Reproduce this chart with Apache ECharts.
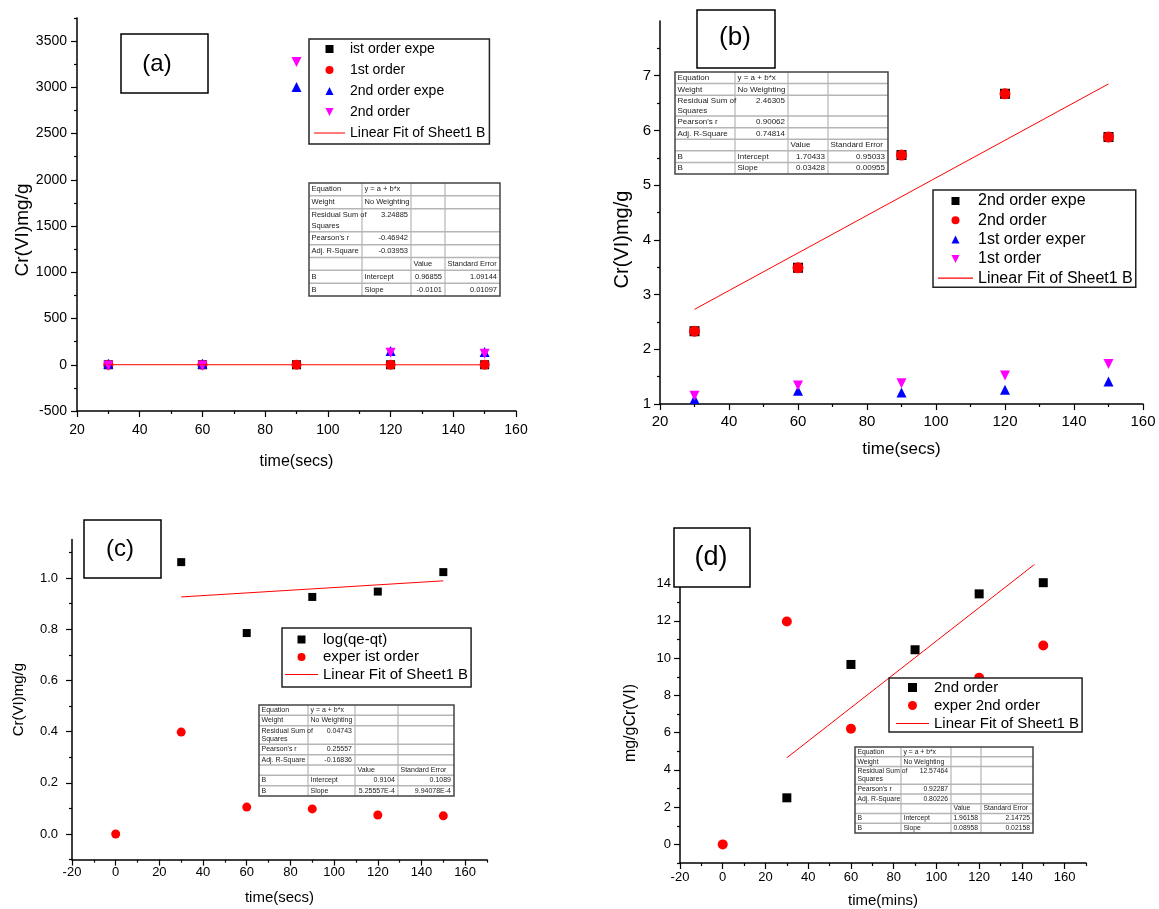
<!DOCTYPE html>
<html><head><meta charset="utf-8">
<script src="https://cdn.jsdelivr.net/npm/echarts@6.0.0/dist/echarts.min.js"></script>
<style>html,body{margin:0;padding:0;background:#fff}#c{width:1159px;height:909px}</style>
</head><body><div id="c"></div>
<script>
const FONT = '"Liberation Sans", Arial, Helvetica, sans-serif';

// ---------- DATA ----------
// Panel (a)
const aX = [30, 60, 90, 120, 150];
const aFirstExp = [0, 0, 0, 0, 0];
const aFirst = [0, 0, 0, 0, 0];
const aSecondExp = [10, 10, 3005, 150, 138];
const aSecond = [-12, -12, 3275, 130, 120];
const aFit = [[30, 0.67], [150, -0.55]];
const aXTicks = [20, 40, 60, 80, 100, 120, 140, 160];
const aXMinor = [30, 50, 70, 90, 110, 130, 150];
const aYTicks = [-500, 0, 500, 1000, 1500, 2000, 2500, 3000, 3500];
const aYMinor = [-250, 250, 750, 1250, 1750, 2250, 2750, 3250, 3750];
const aNames = ['ist order expe', '1st order', '2nd order expe', '2nd order', 'Linear Fit of Sheet1 B'];
const aTable = [
  ['Equation', 'y = a + b*x', '', ''],
  ['Weight', 'No Weighting', '', ''],
  ['Residual Sum of\nSquares', '3.24885', '', ''],
  ["Pearson's r", '-0.46942', '', ''],
  ['Adj. R-Square', '-0.03953', '', ''],
  ['', '', 'Value', 'Standard Error'],
  ['B', 'Intercept', '0.96855', '1.09144'],
  ['B', 'Slope', '-0.0101', '0.01097']
];

// Panel (b)
const bX = [30, 60, 90, 120, 150];
const bSecondExp = [2.33, 3.49, 5.55, 6.67, 5.88];
const bSecond = [2.33, 3.49, 5.55, 6.67, 5.88];
const bFirstExp = [1.09, 1.24, 1.21, 1.26, 1.41];
const bFirst = [1.15, 1.34, 1.38, 1.52, 1.73];
const bFit = [[30, 2.73], [150, 6.85]];
const bXTicks = [20, 40, 60, 80, 100, 120, 140, 160];
const bXMinor = [30, 50, 70, 90, 110, 130, 150];
const bYTicks = [1, 2, 3, 4, 5, 6, 7];
const bYMinor = [1.5, 2.5, 3.5, 4.5, 5.5, 6.5, 7.5];
const bNames = ['2nd order expe', '2nd order', '1st order exper', '1st order', 'Linear Fit of Sheet1 B'];
const bTable = [
  ['Equation', 'y = a + b*x', '', ''],
  ['Weight', 'No Weighting', '', ''],
  ['Residual Sum of\nSquares', '2.46305', '', ''],
  ["Pearson's r", '0.90062', '', ''],
  ['Adj. R-Square', '0.74814', '', ''],
  ['', '', 'Value', 'Standard Error'],
  ['B', 'Intercept', '1.70433', '0.95033'],
  ['B', 'Slope', '0.03428', '0.00955']
];

// Panel (c)
const cSqX = [30, 60, 90, 120, 150];
const cLog = [1.062, 0.785, 0.926, 0.947, 1.023];
const cCircX = [0, 30, 60, 90, 120, 150];
const cExp = [0.0, 0.398, 0.105, 0.098, 0.074, 0.071];
const cFit = [[30, 0.926], [150, 0.989]];
const cXTicks = [-20, 0, 20, 40, 60, 80, 100, 120, 140, 160];
const cXMinor = [-10, 10, 30, 50, 70, 90, 110, 130, 150, 170];
const cYTicks = [0, 0.2, 0.4, 0.6, 0.8, 1.0];
const cYTickLabels = ['0.0', '0.2', '0.4', '0.6', '0.8', '1.0'];
const cYMinor = [-0.1, 0.1, 0.3, 0.5, 0.7, 0.9, 1.1];
const cNames = ['log(qe-qt)', 'exper ist order', 'Linear Fit of Sheet1 B'];
const cTable = [
  ['Equation', 'y = a + b*x', '', ''],
  ['Weight', 'No Weighting', '', ''],
  ['Residual Sum of\nSquares', '0.04743', '', ''],
  ["Pearson's r", '0.25557', '', ''],
  ['Adj. R-Square', '-0.16836', '', ''],
  ['', '', 'Value', 'Standard Error'],
  ['B', 'Intercept', '0.9104', '0.1089'],
  ['B', 'Slope', '5.25557E-4', '9.94078E-4']
];

// Panel (d)
const dSqX = [30, 60, 90, 120, 150];
const dSecond = [2.5, 9.66, 10.45, 13.45, 14.05];
const dCircX = [0, 30, 60, 120, 150];
const dExp = [0, 11.97, 6.21, 8.94, 10.68];
const dFit = [[30, 4.65], [150, 15.4]];
const dXTicks = [-20, 0, 20, 40, 60, 80, 100, 120, 140, 160];
const dXMinor = [-10, 10, 30, 50, 70, 90, 110, 130, 150, 170];
const dYTicks = [0, 2, 4, 6, 8, 10, 12, 14];
const dYMinor = [-1, 1, 3, 5, 7, 9, 11, 13, 15];
const dNames = ['2nd order', 'exper 2nd order', 'Linear Fit of Sheet1 B'];
const dTable = [
  ['Equation', 'y = a + b*x', '', ''],
  ['Weight', 'No Weighting', '', ''],
  ['Residual Sum of\nSquares', '12.57464', '', ''],
  ["Pearson's r", '0.92287', '', ''],
  ['Adj. R-Square', '0.80226', '', ''],
  ['', '', 'Value', 'Standard Error'],
  ['B', 'Intercept', '1.96158', '2.14725'],
  ['B', 'Slope', '0.08958', '0.02158']
];

const panelLabels = ['(a)', '(b)', '(c)', '(d)'];

// ---------- STYLE / LAYOUT ----------
const BLACK = '#000000', RED = '#ff0000', BLUE = '#0000ff', MAG = '#ff00ff';
const SYM = {
  square: { s: 'rect', rot: 0, icon: 'path://M0,0L10,0L10,10L0,10Z' },
  circle: { s: 'circle', rot: 0, icon: 'circle' },
  up: { s: 'triangle', rot: 0, icon: 'path://M5,0L10,10L0,10Z' },
  down: { s: 'triangle', rot: 180, icon: 'path://M0,0L10,0L5,10Z' }
};
const LINE_ICON = 'path://M0,0L30,0L30,1L0,1Z';

const LAYOUT = [
  { grid: { left: 77, top: 18, width: 439, height: 393 },
    xAx: { min: 20, max: 160, major: aXTicks, minor: aXMinor, labelSize: 14, margin: 12, name: 'time(secs)', nameSize: 16, nameGap: 43 },
    yAx: { min: -500, max: 3750, major: aYTicks, minor: aYMinor, labelSize: 14, margin: 10, name: 'Cr(VI)mg/g', nameSize: 19, nameGap: 45, shift: 15.5 },
    legend: { left: 309, top: 39, padding: [3, 4, 4, 5], itemWidth: 31, itemHeight: 8, itemGap: 7, fontSize: 14 },
    table: { x: 309, y: 183, h: 113, cols: [53, 49, 34, 55], fs: 7.5 },
    box: { x: 121, y: 34, w: 87, h: 59, tx: 157, ty: 64, fs: 24 } },
  { grid: { left: 660, top: 21, width: 483, height: 383 },
    xAx: { min: 20, max: 160, major: bXTicks, minor: bXMinor, labelSize: 15, margin: 10, name: 'time(secs)', nameSize: 17, nameGap: 37 },
    yAx: { min: 1, max: 8, major: bYTicks, minor: bYMinor, labelSize: 15, margin: 9, name: 'Cr(VI)mg/g', nameSize: 20, nameGap: 28, shift: 27 },
    legend: { left: 933, top: 190, padding: [3, 3, 1, 5], itemWidth: 35, itemHeight: 8, itemGap: 3.3, fontSize: 16 },
    table: { x: 675, y: 72, h: 102, cols: [60, 53, 40, 60], fs: 8 },
    box: { x: 697, y: 10, w: 78, h: 58, tx: 735, ty: 38, fs: 26 } },
  { grid: { left: 72, top: 539.6, width: 415, height: 320 },
    xAx: { min: -20, max: 170, major: cXTicks, minor: cXMinor, labelSize: 13, margin: 6, name: 'time(secs)', nameSize: 15, nameGap: 31 },
    yAx: { min: -0.1, max: 1.15, major: cYTicks, minor: cYMinor, labels: cYTickLabels, labelSize: 13, margin: 14, name: 'Cr(VI)mg/g', nameSize: 15, nameGap: 46, shift: 0 },
    legend: { left: 282, top: 628, padding: [4, 3, 5, 3], itemWidth: 33, itemHeight: 8, itemGap: 2.5, fontSize: 15 },
    table: { x: 259, y: 705, h: 91, cols: [49, 47, 43, 56], fs: 7 },
    box: { x: 84, y: 520, w: 77, h: 58, tx: 120, ty: 549, fs: 24 } },
  { grid: { left: 680, top: 565, width: 406, height: 298 },
    xAx: { min: -20, max: 170, major: dXTicks, minor: dXMinor, labelSize: 13, margin: 8, name: 'time(mins)', nameSize: 15, nameGap: 30 },
    yAx: { min: -1, max: 15, major: dYTicks, minor: dYMinor, labelSize: 13, margin: 9, name: 'mg/gCr(VI)', nameSize: 16, nameGap: 41, shift: 9 },
    legend: { left: 889, top: 678, padding: [2, 3, 1, 7], itemWidth: 33, itemHeight: 9, itemGap: 3, fontSize: 15 },
    table: { x: 855, y: 747, h: 86, cols: [46, 50, 30, 52], fs: 6.8 },
    box: { x: 674, y: 528, w: 76, h: 59, tx: 711, ty: 558, fs: 27 } }
];

// scatter series spec per panel: [xs, ys, symbolKey, color, size]
const SERIES = [
  [[aX, aFirstExp, 'square', BLACK, 9], [aX, aFirst, 'circle', RED, 10], [aX, aSecondExp, 'up', BLUE, 10], [aX, aSecond, 'down', MAG, 10]],
  [[bX, bSecondExp, 'square', BLACK, 10], [bX, bSecond, 'circle', RED, 11], [bX, bFirstExp, 'up', BLUE, 10], [bX, bFirst, 'down', MAG, 10]],
  [[cSqX, cLog, 'square', BLACK, 8], [cCircX, cExp, 'circle', RED, 9]],
  [[dSqX, dSecond, 'square', BLACK, 9], [dCircX, dExp, 'circle', RED, 10]]
];
const FITS = [aFit, bFit, cFit, dFit];
const NAMES = [aNames, bNames, cNames, dNames];
const TABLES = [aTable, bTable, cTable, dTable];

// ---------- BUILD ----------
const suffix = i => '\u200b'.repeat(i);
const grids = [], xAxes = [], yAxes = [], series = [], legends = [], graphics = [];

function mainAxis(dim, gi, ax) {
  const isY = dim === 'y';
  let pad = 0;
  if (isY) pad = ax.shift >= 0 ? [0, 2 * ax.shift, 0, 0] : [0, 0, 0, -2 * ax.shift];
  return {
    type: 'value', gridIndex: gi, min: ax.min, max: ax.max, position: isY ? 'left' : 'bottom',
    name: ax.name, nameLocation: 'middle', nameGap: ax.nameGap,
    nameTextStyle: { fontSize: ax.nameSize, color: '#000', fontFamily: FONT, padding: pad },
    axisLine: { show: true, onZero: false, lineStyle: { color: '#000', width: 1.5 } },
    axisTick: { show: true, inside: false, length: 6, customValues: ax.major, lineStyle: { color: '#000', width: 1.2 } },
    axisLabel: {
      show: true, customValues: ax.major, margin: ax.margin, fontSize: ax.labelSize, color: '#000', fontFamily: FONT,
      formatter: v => { if (ax.labels) { const k = ax.major.findIndex(m => Math.abs(m - v) < 1e-9); return k >= 0 ? ax.labels[k] : ''; } return String(v); }
    },
    splitLine: { show: false }, minorTick: { show: false }
  };
}
function minorAxis(dim, gi, ax) {
  const isY = dim === 'y';
  return {
    type: 'value', gridIndex: gi, min: ax.min, max: ax.max, position: isY ? 'left' : 'bottom',
    axisLine: { show: false, onZero: false },
    axisTick: { show: true, inside: false, length: 3, customValues: ax.minor, lineStyle: { color: '#000', width: 1.2 } },
    axisLabel: { show: false }, splitLine: { show: false }
  };
}

function tableGraphics(t, cells) {
  const els = [];
  const fr = [1, 1, 1.8, 1, 1, 1, 1, 1];
  const unit = t.h / fr.reduce((a, b) => a + b, 0);
  const rows = fr.map(f => f * unit);
  const W = t.cols.reduce((a, b) => a + b, 0);
  els.push({ type: 'rect', shape: { x: t.x, y: t.y, width: W, height: t.h }, style: { fill: '#fff', stroke: null }, z: 20 });
  let yy = t.y;
  rows.forEach((h, i) => {
    if (i > 0) els.push({ type: 'line', shape: { x1: t.x, y1: yy, x2: t.x + W, y2: yy }, style: { stroke: '#b5b5b5', lineWidth: 1.5 }, z: 21 });
    yy += h;
  });
  let xx = t.x;
  t.cols.forEach((w, j) => {
    if (j > 0) els.push({ type: 'line', shape: { x1: xx, y1: t.y, x2: xx, y2: t.y + t.h }, style: { stroke: '#b5b5b5', lineWidth: 1.2 }, z: 21 });
    xx += w;
  });
  els.push({ type: 'rect', shape: { x: t.x, y: t.y, width: W, height: t.h }, style: { fill: null, stroke: '#444', lineWidth: 1.5 }, z: 22 });
  yy = t.y;
  cells.forEach((row, i) => {
    const h = rows[i];
    let cx = t.x;
    row.forEach((txt, j) => {
      const w = t.cols[j];
      if (txt) {
        const num = /^-?[\d.]+(E-?\d+)?$/.test(txt);
        const multi = txt.indexOf('\n') >= 0;
        const cy = multi ? yy + h / 2 : (i === 2 ? yy + unit / 2 : yy + h / 2);
        els.push({
          type: 'text', x: num ? cx + w - 3 : cx + 2.5, y: cy, z: 23,
          style: { text: txt, fill: '#222', fontSize: t.fs, fontFamily: FONT, align: num ? 'right' : 'left', verticalAlign: 'middle', lineHeight: multi ? unit * 0.85 : undefined }
        });
      }
      cx += w;
    });
    yy += h;
  });
  return els;
}

LAYOUT.forEach((L, p) => {
  const g = Object.assign({ containLabel: false, outerBoundsMode: 'none', show: false }, L.grid);
  grids[p] = g;
  grids[4 + p] = Object.assign({}, g);
  xAxes[p] = mainAxis('x', p, L.xAx);
  yAxes[p] = mainAxis('y', p, L.yAx);
  xAxes[4 + p] = minorAxis('x', 4 + p, L.xAx);
  yAxes[4 + p] = minorAxis('y', 4 + p, L.yAx);

  const names = NAMES[p];
  const legendData = [];
  SERIES[p].forEach((s, k) => {
    const [xs, ys, key, color, size] = s;
    const nm = names[k] + suffix(p);
    series.push({
      type: 'scatter', name: nm, xAxisIndex: p, yAxisIndex: p,
      data: xs.map((x, i) => [x, ys[i]]),
      symbol: SYM[key].s, symbolRotate: SYM[key].rot, symbolSize: size,
      itemStyle: { color: color, opacity: 1, borderWidth: 0 },
      emphasis: { disabled: true }, animation: false, z: 3
    });
    legendData.push({ name: nm, icon: SYM[key].icon, itemStyle: { color: color, borderWidth: 0 } });
  });
  const fitName = names[names.length - 1] + suffix(p);
  series.push({
    type: 'line', name: fitName, xAxisIndex: p, yAxisIndex: p, data: FITS[p],
    symbol: 'none', showSymbol: false, clip: true, color: RED,
    lineStyle: { color: RED, width: 1 }, itemStyle: { color: RED },
    emphasis: { disabled: true }, animation: false, z: 4
  });
  legendData.push({ name: fitName, icon: LINE_ICON, itemStyle: { color: RED, borderWidth: 0 } });

  const lg = L.legend;
  legends.push({
    orient: 'vertical', left: lg.left, top: lg.top, padding: lg.padding,
    itemWidth: lg.itemWidth, itemHeight: lg.itemHeight, itemGap: lg.itemGap,
    backgroundColor: '#fff', borderColor: '#222', borderWidth: 1.5, borderRadius: 0,
    selectedMode: false, symbolKeepAspect: true,
    textStyle: { fontSize: lg.fontSize, color: '#000', fontFamily: FONT },
    formatter: n => n.replace(/\u200b/g, ''),
    data: legendData, z: 8
  });

  tableGraphics(L.table, TABLES[p]).forEach(e => graphics.push(e));
  const b = L.box;
  graphics.push({ type: 'rect', shape: { x: b.x, y: b.y, width: b.w, height: b.h }, style: { fill: '#fff', stroke: '#000', lineWidth: 1.5 }, z: 30 });
  graphics.push({ type: 'text', x: b.tx, y: b.ty, z: 31, style: { text: panelLabels[p], fill: '#000', fontSize: b.fs, fontFamily: FONT, align: 'center', verticalAlign: 'middle' } });
});

const chart = echarts.init(document.getElementById('c'), null, { renderer: 'canvas' });
chart.setOption({
  animation: false,
  backgroundColor: '#ffffff',
  grid: grids, xAxis: xAxes, yAxis: yAxes,
  legend: legends, series: series,
  graphic: { elements: graphics }
});
</script></body></html>
